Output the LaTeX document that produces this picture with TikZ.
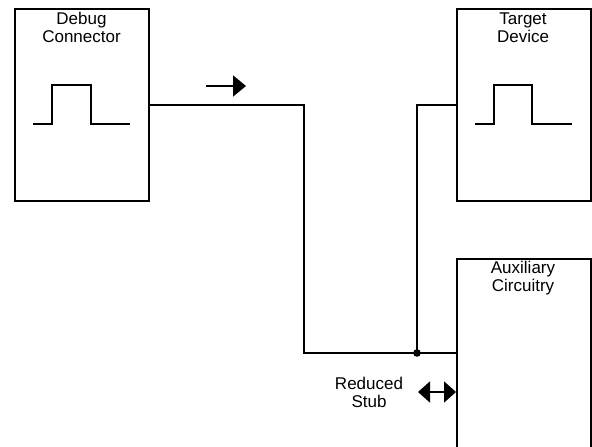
\documentclass[tikz,border=0pt]{standalone}
\usepackage{fontspec}
\setmainfont{Liberation Sans}
\usetikzlibrary{arrows.meta,calc}

\begin{document}
\begin{tikzpicture}[
  x=1bp,y=-1bp,
  every node/.style={font=\fontsize{17bp}{18bp}\selectfont},
  unit/.style={draw,line width=1.8bp,minimum width=134bp,inner sep=0pt,anchor=north west},
  title/.style={align=center,anchor=base,inner sep=0pt},
  wire/.style={line width=1.8bp},
  pulse/.style={line width=1.8bp},
  flow/.style={-{Triangle[length=13bp,width=21bp]},line width=1.8bp},
  stub/.style={{Triangle[length=12bp,width=21bp]}-{Triangle[length=12bp,width=21bp]},line width=1.8bp},
]
\clip (0,0) rectangle (592,447);

%% Three blocks
\node[unit,minimum height=192bp] (dbg) at (14,8) {};
\node[unit,minimum height=192bp] (tgt) at (456,8) {};
\node[unit,minimum height=220bp] (aux) at (456,258) {};

\node[title] (dbgtext) at (81.5,43) {Debug\\Connector};
\node[title] (tgttext) at (523,43) {Target\\Device};
\node[title] (auxtext) at (523,292) {Auxiliary\\Circuitry};

%% Pulses
\draw[pulse] (33,124) -| (52,85) -| (91,124) -- (130,124);
\draw[pulse] (475,124) -| (494,85) -| (532,124) -- (572,124);

%% Trace with junction
\coordinate (junc) at (417,353);
\draw[wire] (dbg.east) -- ++(154,0) |- (junc) -- (junc -| aux.west);
\draw[wire] (junc) |- (tgt.west);
\fill (junc) circle (3.8bp);

%% Signal direction
\coordinate (dirL) at (206,86);
\draw[flow] (dirL) -- ++(40,0);

%% Reduced stub
\node[title] (stubtext) at (369,407) {Reduced\\Stub};
\coordinate (stubL) at (418,392);
\draw[stub] (stubL) -- (stubL -| aux.west);

\end{tikzpicture}
\end{document}
